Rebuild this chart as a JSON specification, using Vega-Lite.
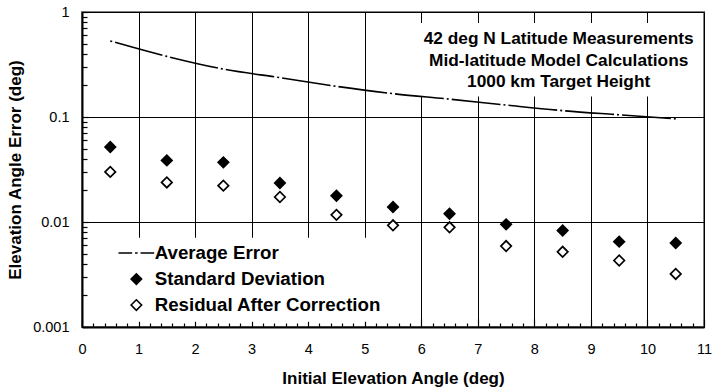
{
  "$schema": "https://vega.github.io/schema/vega-lite/v6.json",
  "width": 622,
  "height": 315,
  "autosize": "none",
  "padding": {"left": 82, "top": 12, "right": 8, "bottom": 62},
  "background": "white",
  "config": {
    "view": {"stroke": "#808080", "strokeWidth": 2},
    "font": "Liberation Sans",
    "legend": {
      "orient": "none",
      "legendX": 7,
      "legendY": 225.7,
      "fillColor": "white",
      "padding": 6,
      "labelFont": "Liberation Sans",
      "labelFontSize": 18.7,
      "labelFontWeight": "bold",
      "labelColor": "black",
      "labelLimit": 0,
      "symbolSize": 110,
      "symbolStrokeWidth": 1.6,
      "symbolStrokeColor": "black",
      "rowPadding": 6,
      "symbolOffset": 32,
      "labelOffset": 9
    }
  },
  "datasets": {
    "series": [
      {"x": 0.5, "value": 0.53, "series": "Average Error"},
      {"x": 1.5, "value": 0.378, "series": "Average Error"},
      {"x": 2.5, "value": 0.286, "series": "Average Error"},
      {"x": 3.5, "value": 0.237, "series": "Average Error"},
      {"x": 4.5, "value": 0.196, "series": "Average Error"},
      {"x": 5.5, "value": 0.167, "series": "Average Error"},
      {"x": 6.5, "value": 0.148, "series": "Average Error"},
      {"x": 7.5, "value": 0.130, "series": "Average Error"},
      {"x": 8.5, "value": 0.115, "series": "Average Error"},
      {"x": 9.5, "value": 0.105, "series": "Average Error"},
      {"x": 10.5, "value": 0.096, "series": "Average Error"},
      {"x": 0.5, "value": 0.0518, "series": "Standard Deviation"},
      {"x": 1.5, "value": 0.0386, "series": "Standard Deviation"},
      {"x": 2.5, "value": 0.037, "series": "Standard Deviation"},
      {"x": 3.5, "value": 0.0235, "series": "Standard Deviation"},
      {"x": 4.5, "value": 0.0178, "series": "Standard Deviation"},
      {"x": 5.5, "value": 0.0139, "series": "Standard Deviation"},
      {"x": 6.5, "value": 0.012, "series": "Standard Deviation"},
      {"x": 7.5, "value": 0.0095, "series": "Standard Deviation"},
      {"x": 8.5, "value": 0.0083, "series": "Standard Deviation"},
      {"x": 9.5, "value": 0.0065, "series": "Standard Deviation"},
      {"x": 10.5, "value": 0.0063, "series": "Standard Deviation"},
      {"x": 0.5, "value": 0.030, "series": "Residual After Correction"},
      {"x": 1.5, "value": 0.0238, "series": "Residual After Correction"},
      {"x": 2.5, "value": 0.0222, "series": "Residual After Correction"},
      {"x": 3.5, "value": 0.0173, "series": "Residual After Correction"},
      {"x": 4.5, "value": 0.0117, "series": "Residual After Correction"},
      {"x": 5.5, "value": 0.0093, "series": "Residual After Correction"},
      {"x": 6.5, "value": 0.0089, "series": "Residual After Correction"},
      {"x": 7.5, "value": 0.0059, "series": "Residual After Correction"},
      {"x": 8.5, "value": 0.0052, "series": "Residual After Correction"},
      {"x": 9.5, "value": 0.0043, "series": "Residual After Correction"},
      {"x": 10.5, "value": 0.0032, "series": "Residual After Correction"}
    ],
    "box": [{"x1": 5.9, "x2": 10.97, "y1": 0.157, "y2": 0.785}],
    "note": [{"x": 8.43, "y": 0.553}]
  },
  "layer": [
    {
      "data": {"name": "box"},
      "mark": {"type": "rect", "fill": "white", "strokeWidth": 0},
      "encoding": {
        "x": {
          "field": "x1", "type": "quantitative",
          "scale": {"domain": [0, 11], "nice": false, "zero": false},
          "axis": {
            "orient": "bottom", "zindex": 0,
            "values": [0, 1, 2, 3, 4, 5, 6, 7, 8, 9, 10, 11],
            "grid": true, "gridColor": "black", "gridWidth": 1, "gridOpacity": 1,
            "ticks": false, "tickSize": 0,
            "domain": true, "domainColor": "black", "domainWidth": 2,
            "labelFont": "Liberation Sans", "labelFontSize": 14.5, "labelColor": "black",
            "labelPadding": 15, "labelFlush": false, "labelOverlap": false,
            "title": "Initial Elevation Angle (deg)",
            "titleFont": "Liberation Sans", "titleFontSize": 17, "titleFontWeight": "bold",
            "titleColor": "black", "titlePadding": 15
          }
        },
        "x2": {"field": "x2"},
        "y": {
          "field": "y1", "type": "quantitative",
          "scale": {"type": "log", "domain": [0.001, 1], "nice": false},
          "axis": {
            "orient": "left", "zindex": 0,
            "values": [0.001, 0.01, 0.1, 1],
            "format": "~g",
            "grid": true, "gridColor": "black", "gridWidth": 1, "gridOpacity": 1,
            "ticks": false, "tickSize": 0,
            "domain": true, "domainColor": "black", "domainWidth": 2,
            "labelFont": "Liberation Sans", "labelFontSize": 14.5, "labelColor": "black",
            "labelPadding": 13, "labelFlush": false, "labelOverlap": false,
            "title": "Elevation Angle Error (deg)",
            "titleFont": "Liberation Sans", "titleFontSize": 17, "titleFontWeight": "bold",
            "titleColor": "black", "titlePadding": 8
          }
        },
        "y2": {"field": "y2"}
      }
    },
    {
      "data": {"name": "series"},
      "transform": [{"filter": "datum.series === 'Average Error'"}],
      "mark": {"type": "line", "color": "black", "strokeWidth": 1.6, "interpolate": "monotone", "strokeDash": [2, 3, 49, 3]},
      "encoding": {
        "x": {"field": "x", "type": "quantitative", "axis": null},
        "y": {"field": "value", "type": "quantitative", "axis": null}
      }
    },
    {
      "data": {"name": "series"},
      "transform": [{"filter": "datum.series !== 'Average Error'"}],
      "mark": {"type": "point", "size": 110, "strokeWidth": 1.7, "opacity": 1},
      "encoding": {
        "x": {"field": "x", "type": "quantitative", "axis": null},
        "y": {"field": "value", "type": "quantitative", "axis": null},
        "shape": {
          "field": "series", "type": "nominal",
          "scale": {
            "domain": ["Average Error", "Standard Deviation", "Residual After Correction"],
            "range": ["M-3.4,0H-0.8M-0.25,0H0.25M0.8,0H3.4", "diamond", "diamond"]
          },
          "legend": {"title": null}
        },
        "fill": {
          "field": "series", "type": "nominal",
          "scale": {
            "domain": ["Average Error", "Standard Deviation", "Residual After Correction"],
            "range": ["transparent", "black", "white"]
          },
          "legend": {"title": null}
        },
        "stroke": {
          "field": "series", "type": "nominal",
          "scale": {
            "domain": ["Average Error", "Standard Deviation", "Residual After Correction"],
            "range": ["black", "black", "black"]
          },
          "legend": {"title": null}
        }
      }
    },
    {
      "data": {"name": "note"},
      "mark": {
        "type": "text",
        "text": ["42 deg N Latitude Measurements", "Mid-latitude Model Calculations", "1000 km Target Height"],
        "font": "Liberation Sans", "fontSize": 17.3, "fontWeight": "bold", "color": "black",
        "align": "center", "baseline": "middle", "lineHeight": 21.5
      },
      "encoding": {
        "x": {"field": "x", "type": "quantitative", "axis": null},
        "y": {"field": "y", "type": "quantitative", "axis": null}
      }
    },
    {
      "data": {"name": "series"},
      "mark": {"type": "point", "opacity": 0},
      "encoding": {
        "x": {
          "field": "x", "type": "quantitative",
          "axis": {
            "orient": "bottom",
            "values": [0.2, 0.4, 0.6, 0.8, 1.2, 1.4, 1.6, 1.8, 2.2, 2.4, 2.6, 2.8, 3.2, 3.4, 3.6, 3.8, 4.2, 4.4, 4.6, 4.8, 5.2, 5.4, 5.6, 5.8, 6.2, 6.4, 6.6, 6.8, 7.2, 7.4, 7.6, 7.8, 8.2, 8.4, 8.6, 8.8, 9.2, 9.4, 9.6, 9.8, 10.2, 10.4, 10.6, 10.8],
            "labels": false, "grid": false, "domain": false,
            "ticks": true, "tickSize": -4, "tickColor": "black", "tickWidth": 1.2,
            "title": null
          }
        },
        "y": {
          "field": "value", "type": "quantitative",
          "axis": {
            "orient": "left",
            "values": [0.002, 0.003, 0.004, 0.005, 0.006, 0.007, 0.008, 0.009, 0.02, 0.03, 0.04, 0.05, 0.06, 0.07, 0.08, 0.09, 0.2, 0.3, 0.4, 0.5, 0.6, 0.7, 0.8, 0.9],
            "labels": false, "grid": false, "domain": false,
            "ticks": true, "tickSize": -5, "tickColor": "black", "tickWidth": 1.2,
            "title": null
          }
        }
      }
    },
    {
      "data": {"name": "series"},
      "mark": {"type": "point", "opacity": 0},
      "encoding": {
        "x": {
          "field": "x", "type": "quantitative",
          "axis": {
            "orient": "bottom",
            "values": [0, 1, 2, 3, 4, 5, 6, 7, 8, 9, 10, 11],
            "labels": false, "grid": false, "domain": false,
            "ticks": true, "tickSize": -8, "tickColor": "black", "tickWidth": 1.2,
            "title": null
          }
        },
        "y": {
          "field": "value", "type": "quantitative",
          "axis": {
            "orient": "left",
            "values": [0.001, 0.01, 0.1, 1],
            "labels": false, "grid": false, "domain": false,
            "ticks": true, "tickSize": -6, "tickColor": "black", "tickWidth": 1.2,
            "title": null
          }
        }
      }
    }
  ],
  "resolve": {"axis": {"x": "independent", "y": "independent"}}
}
